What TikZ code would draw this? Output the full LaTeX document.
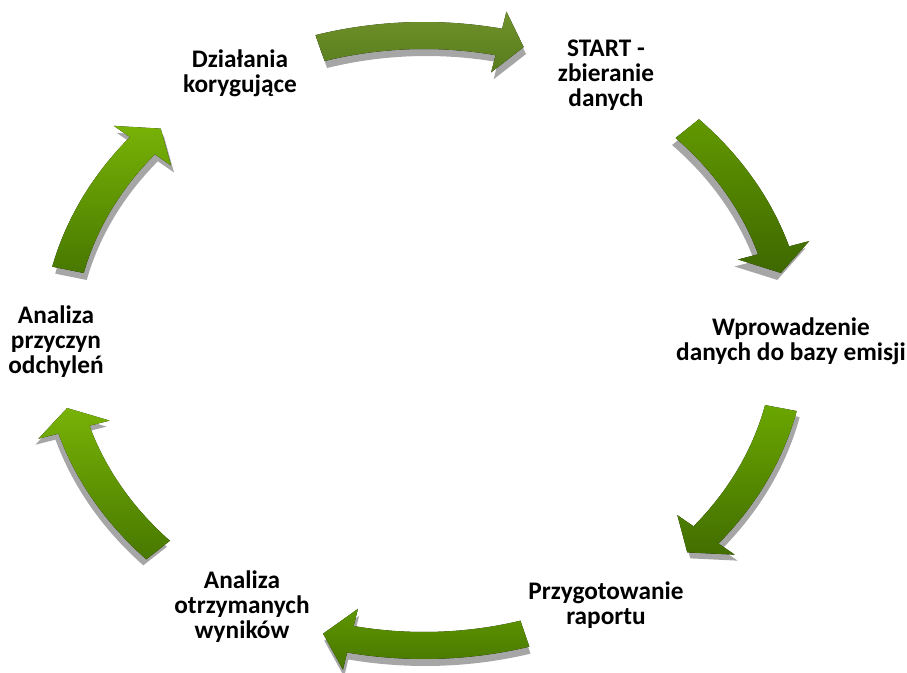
\documentclass[tikz,border=0pt]{standalone}
\usepackage{fontspec}
\setmainfont{Carlito}
\usepackage{tikz}
\usepackage{color}
\definecolor{shadowgray}{RGB}{166,166,166}
\definecolor{olivetop}{RGB}{112,146,42}
\definecolor{olivebot}{RGB}{88,124,30}
\definecolor{greenA}{RGB}{98,152,0}
\definecolor{greenB}{RGB}{62,104,0}
\definecolor{greenC}{RGB}{106,166,0}
\definecolor{greenD}{RGB}{66,110,0}
\definecolor{greenE}{RGB}{94,150,0}
\definecolor{greenF}{RGB}{72,118,0}
\definecolor{greenG}{RGB}{120,178,6}
\definecolor{greenH}{RGB}{72,120,0}
\newcommand{\cyclearrow}[7]{%
	\fill[shadowgray, shift={(#6,#7)}] (#1:291.5) arc[start angle=#1, end angle=#2, radius=291.5] -- (#2:274) -- (#3:305) -- (#2:336) -- (#2:318.5) arc[start angle=#2, end angle=#1, radius=318.5] -- cycle;
	\fill[top color=#4, bottom color=#5] (#1:291.5) arc[start angle=#1, end angle=#2, radius=291.5] -- (#2:274) -- (#3:305) -- (#2:336) -- (#2:318.5) arc[start angle=#2, end angle=#1, radius=318.5] -- cycle;
}

\begin{document}
\begin{tikzpicture}[x=0.02cm, y=0.02cm, label/.style={align=center, font=\fontsize{14.4}{14.2}\selectfont\bfseries}]
				\useasboundingbox (0,0) rectangle (907,673);
				\begin{scope}[shift={(424,332.5)}, xscale=1.2]
					\cyclearrow{106.5}{78.2}{74.2}{olivetop}{olivebot}{2}{-7}
					\cyclearrow{44}{17.2}{12.8}{greenA}{greenB}{-3}{-7}
					\cyclearrow{-12.8}{-39.6}{-44}{greenC}{greenD}{2.5}{-6}
					\cyclearrow{-74}{-101.6}{-106}{greenE}{greenF}{1}{-7}
					\cyclearrow{-136.6}{-163}{-167.2}{greenG}{greenH}{-2.5}{-6}
					\cyclearrow{166.6}{140.3}{136}{greenG}{greenH}{2.5}{-7}
				\end{scope}
				\node[label] (start) at (606,598) {START -\\zbieranie\\danych};
				\node[label] (baza) at (791,332) {Wprowadzenie\\danych do bazy emisji};
				\node[label] (raport) at (606,68) {Przygotowanie\\raportu};
				\node[label] (wyniki) at (242,66) {Analiza\\otrzymanych\\wyników};
				\node[label] (przyczyny) at (56,331) {Analiza\\przyczyn\\odchyleń};
				\node[label] (dzialania) at (240,600) {Działania\\korygujące};
\end{tikzpicture}
\end{document}
